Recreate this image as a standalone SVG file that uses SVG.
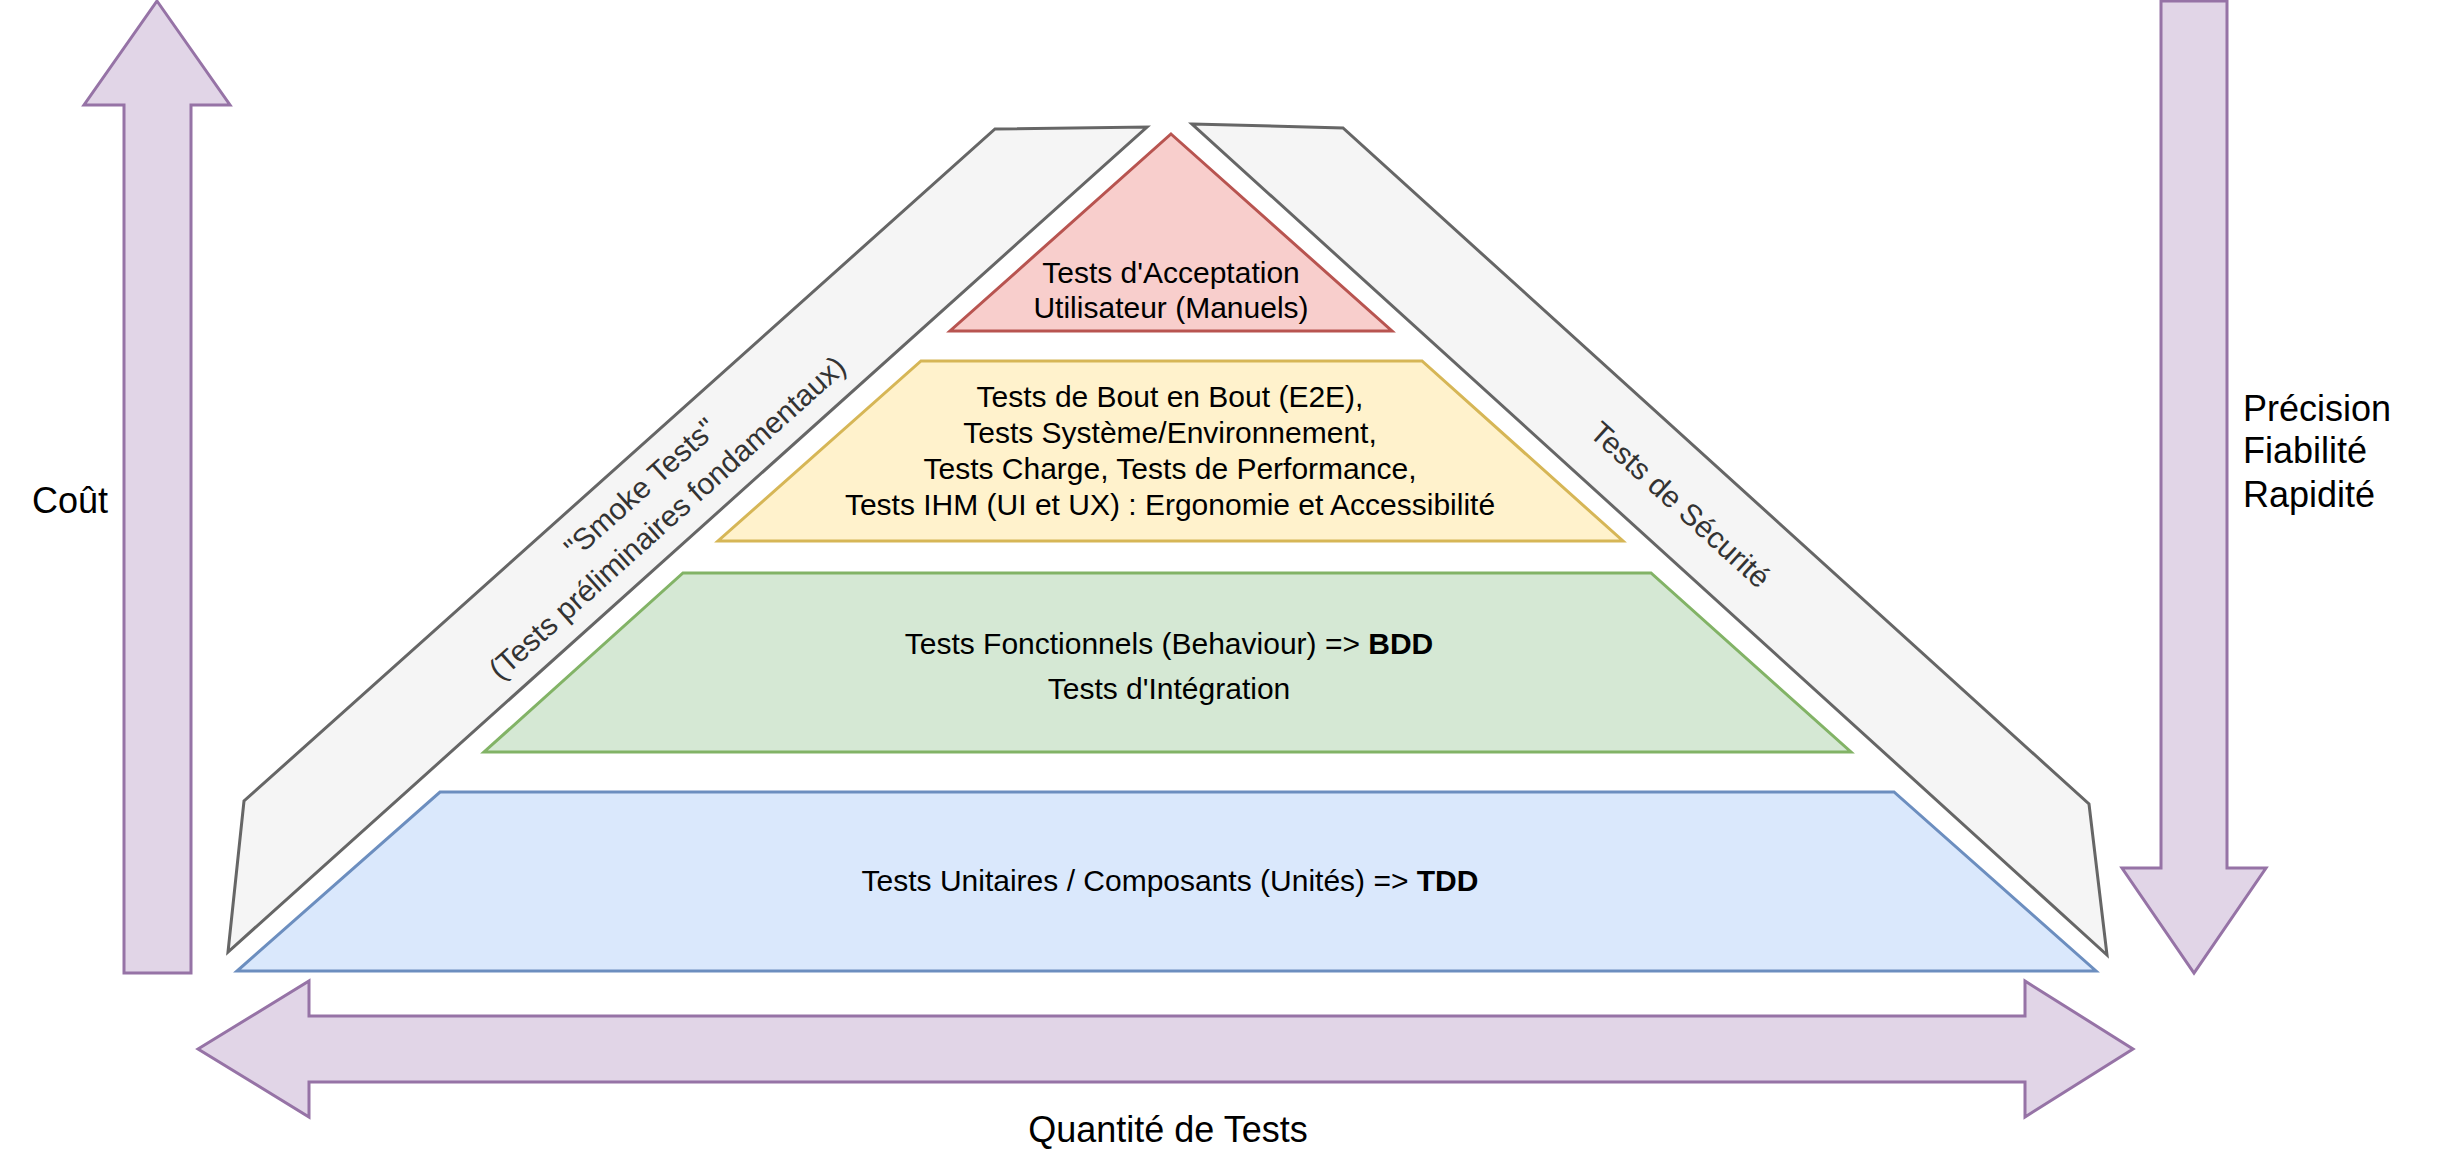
<svg xmlns="http://www.w3.org/2000/svg" width="2448" height="1173" viewBox="0 0 2448 1173">
<style>
.arrow{fill:#e1d5e7;stroke:#9673a6;stroke-width:3;stroke-linejoin:miter}
.band{fill:#f5f5f5;stroke:#666666;stroke-width:3}
.red{fill:#f8cecc;stroke:#b85450;stroke-width:3}
.yellow{fill:#fff2cc;stroke:#d6b656;stroke-width:3}
.green{fill:#d5e8d4;stroke:#82b366;stroke-width:3}
.blue{fill:#dae8fc;stroke:#6c8ebf;stroke-width:3}
text{font-family:"Liberation Sans",Arial,sans-serif;fill:#000}
.t30{font-size:30px;text-anchor:middle}
.t36{font-size:36px}
.band-t{font-size:30px;text-anchor:middle;fill:#333333}
</style>
<rect width="2448" height="1173" fill="#ffffff"/>
<g id="arrow-cout">
<polygon class="arrow" points="157,1 230,105 191,105 191,973 124,973 124,105 84,105"/>
</g>
<g id="label-cout"><text class="t36" x="32" y="513">Coût</text></g>
<g id="arrow-precision">
<polygon class="arrow" points="2161,1 2227,1 2227,868 2266,868 2194,973 2122,868 2161,868"/>
</g>
<g id="label-precision">
<text class="t36" x="2243" y="421">Précision</text>
<text class="t36" x="2243" y="463">Fiabilité</text>
<text class="t36" x="2243" y="507">Rapidité</text>
</g>
<g id="arrow-quantite">
<polygon class="arrow" points="198,1049 309,981 309,1016 2025,1016 2025,981 2133,1049 2025,1117 2025,1082 309,1082 309,1117"/>
</g>
<g id="label-quantite"><text class="t36" x="1168" y="1142" text-anchor="middle">Quantité de Tests</text></g>
<g id="smoke-tests">
<polygon class="band" points="995,129 1147,127 228,952 244,801"/>
<g transform="translate(654,503) rotate(-41.9)">
<text class="band-t" x="0" y="-10">"Smoke Tests"</text>
<text class="band-t" x="0" y="30">(Tests préliminaires fondamentaux)</text>
</g>
</g>
<g id="securite">
<polygon class="band" points="1192,124 1343,128 2089,804 2107,955"/>
<text class="band-t" transform="translate(1680,505) rotate(42.2)" x="0" y="10">Tests de Sécurité</text>
</g>
<g id="acceptation">
<polygon class="red" points="1171,134 1392,331 950,331"/>
<text class="t30" x="1171" y="283">Tests d'Acceptation</text>
<text class="t30" x="1171" y="318">Utilisateur (Manuels)</text>
</g>
<g id="e2e">
<polygon class="yellow" points="921,361 1422,361 1623,541 718,541"/>
<text class="t30" x="1170" y="407">Tests de Bout en Bout (E2E),</text>
<text class="t30" x="1170" y="443">Tests Système/Environnement,</text>
<text class="t30" x="1170" y="479">Tests Charge, Tests de Performance,</text>
<text class="t30" x="1170" y="515">Tests IHM (UI et UX) : Ergonomie et Accessibilité</text>
</g>
<g id="fonctionnels">
<polygon class="green" points="683,573 1651,573 1851,752 484,752"/>
<text class="t30" x="1169" y="654">Tests Fonctionnels (Behaviour) =&gt; <tspan font-weight="bold">BDD</tspan></text>
<text class="t30" x="1169" y="699">Tests d'Intégration</text>
</g>
<g id="unitaires">
<polygon class="blue" points="440,792 1894,792 2096,971 237,971"/>
<text class="t30" x="1170" y="891">Tests Unitaires / Composants (Unités) =&gt; <tspan font-weight="bold">TDD</tspan></text>
</g>
<g id="connectors"/>
</svg>
